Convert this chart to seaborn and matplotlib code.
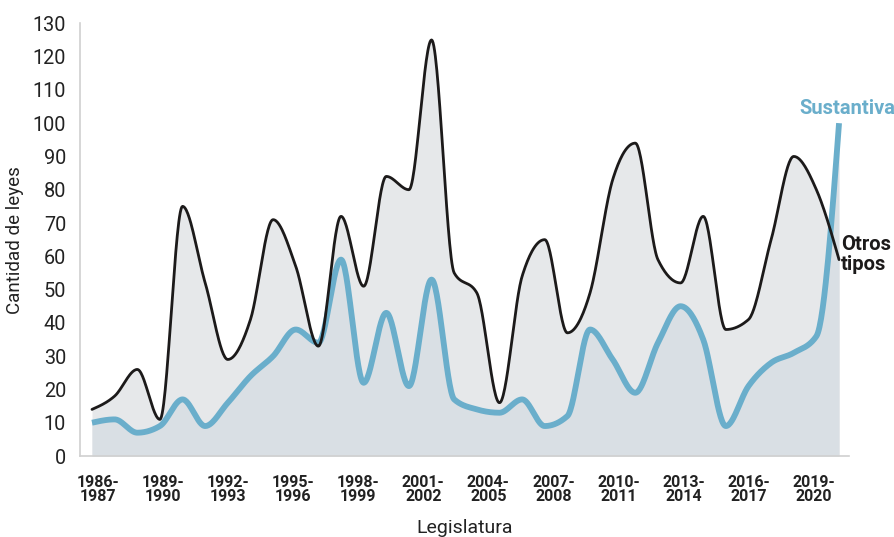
import numpy as np
import pandas as pd
import matplotlib
matplotlib.use("Agg")
import matplotlib.pyplot as plt
import seaborn as sns

# ---- data ----
legislaturas = [f"{y}-{y+1}" for y in range(1986, 2020)]
otros_tipos = [14, 18, 26, 11, 75, 52, 29, 41, 71, 57, 33, 72, 51, 84, 80, 125, 55, 49,
               16, 54, 65, 37, 49, 83, 94, 59, 52, 72, 38, 41, 65, 90, 80, 59]
sustantiva = [10, 11, 7, 9, 17, 9, 16, 24, 30, 38, 34, 59, 22, 43, 21, 53, 17, 14,
              13, 17, 9, 12, 38, 29, 19, 34, 45, 35, 9, 21, 28, 31, 36, 100]
tick_years = list(range(1986, 2020, 3))
tick_labels = [f"{y}-\n{y+1}" for y in tick_years]


def monotone(x, y, n=30):
    x = np.asarray(x, float); y = np.asarray(y, float)
    h = np.diff(x); s = np.diff(y) / h
    m = np.zeros_like(y)
    for i in range(1, len(y) - 1):
        p = (s[i-1] * h[i] + s[i] * h[i-1]) / (h[i-1] + h[i])
        m[i] = (np.sign(s[i-1]) + np.sign(s[i])) * min(abs(s[i-1]), abs(s[i]), 0.5 * abs(p))
    m[0] = (3 * s[0] - m[1]) / 2
    m[-1] = (3 * s[-1] - m[-2]) / 2
    xs, ys = [], []
    for i in range(len(y) - 1):
        t = np.linspace(0, 1, n, endpoint=(i == len(y) - 2))
        h00 = 2*t**3 - 3*t**2 + 1; h10 = t**3 - 2*t**2 + t
        h01 = -2*t**3 + 3*t**2; h11 = t**3 - t**2
        xs.append(x[i] + t * h[i])
        ys.append(h00*y[i] + h10*h[i]*m[i] + h01*y[i+1] + h11*h[i]*m[i+1])
    return np.concatenate(xs), np.concatenate(ys)


idx = np.arange(len(legislaturas))
xo, yo = monotone(idx, otros_tipos)
xs_, ys_ = monotone(idx, sustantiva)
df = pd.DataFrame({"x": np.concatenate([xo, xs_]),
                   "y": np.concatenate([yo, ys_]),
                   "serie": ["Otros tipos"] * len(xo) + ["Sustantiva"] * len(xs_)})

sns.set_style("white")
plt.rcParams["font.family"] = ["Roboto", "DejaVu Sans"]

fig = plt.figure(figsize=(8.94, 5.37), dpi=100)
ax = fig.add_axes([80/894, 81/537, (849-80)/894, (456-23.3)/537])

ax.fill_between(xo, 0, yo, color="#e6e8ea", lw=0, zorder=1)
ax.fill_between(xs_, 0, ys_, color="#d9dfe4", lw=0, zorder=2)
sns.lineplot(data=df[df.serie == "Otros tipos"], x="x", y="y", color="#1c1a1a",
             lw=2.0, ax=ax, zorder=4, sort=False, estimator=None)
sns.lineplot(data=df[df.serie == "Sustantiva"], x="x", y="y", color="#6aaecb",
             lw=4.2, ax=ax, zorder=3, sort=False, estimator=None,
             solid_capstyle="butt")

ax.set_xlim(-0.53, 33.44)
ax.set_ylim(0, 130)
ax.set_yticks(range(0, 131, 10))
ax.tick_params(axis="y", length=7, width=1, color="#cfcfcf", labelsize=14.3,
               labelcolor="#222222", pad=3)
label_pos = [0.25 + 2.877 * i for i in range(len(tick_labels))]
ax.set_xticks(label_pos)
ax.set_xticklabels(tick_labels, fontweight="bold", fontsize=11.5, linespacing=0.85)
ax.set_xticks(idx, minor=True)
ax.tick_params(axis="x", which="major", length=0, pad=14, labelcolor="#222222")
ax.tick_params(axis="x", which="minor", length=6, width=1, color="#cfcfcf")

for side in ["top", "right"]:
    ax.spines[side].set_visible(False)
for side in ["left", "bottom"]:
    ax.spines[side].set_color("#d0d0d0")
    ax.spines[side].set_linewidth(1.2)

ax.set_xlabel("Legislatura", fontsize=14, color="#222222", labelpad=11)
ax.set_ylabel("Cantidad de leyes", fontsize=13.5, color="#222222", labelpad=6)

ax.text(33.35, 104.5, "Sustantiva", color="#6aaecb", fontsize=14.5, fontweight="bold",
        ha="center", va="center", clip_on=False)
ax.text(33.1, 60.5, "Otros\ntipos", color="#1c1a1a", fontsize=14.5, fontweight="bold",
        ha="left", va="center", linespacing=1.05, clip_on=False)

fig.savefig("out.png", dpi=100)
